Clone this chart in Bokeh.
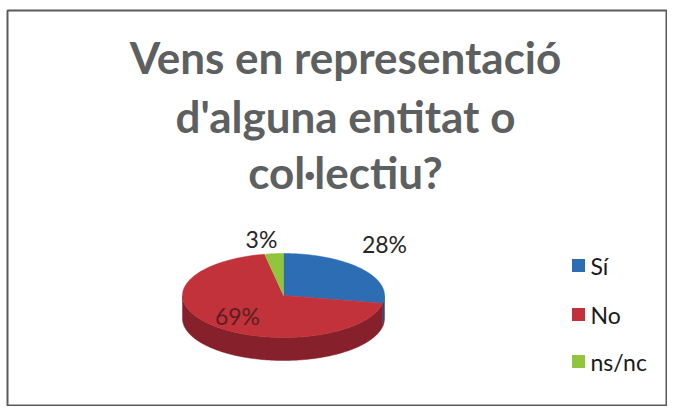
import numpy as np
from bokeh.plotting import figure
from bokeh.models import Range1d
from bokeh.core.properties import value
from bokeh.embed import file_html
from bokeh.resources import INLINE

# ---- data ----
title_lines = ["Vens en representació", "d'alguna entitat o", "col·lectiu?"]
categories = ["Sí", "No", "ns/nc"]
shares = [28, 69, 3]
pct_labels = ["28%", "69%", "3%"]

# ---- style ----
top_colors = ["#2d6db3", "#c2323a", "#92c43e"]
side_colors = ["#1f4f88", "#86202a", "#5f8a22"]
label_colors = ["#262626", "#5a1e22", "#262626"]
label_offsets = [(101, 52), (-46, -20), (-22, 57)]  # (dx, dy) from pie centre, px

W, H = 667, 406
p = figure(width=W, height=H, output_backend="svg", toolbar_location=None,
           x_range=Range1d(0, W), y_range=Range1d(0, H), min_border=0,
           background_fill_color="white", border_fill_color="white")
p.axis.visible = False
p.grid.visible = False
p.outline_line_color = None

# chart frame
p.quad(left=[7], right=[666], top=[H - 10], bottom=[H - 405],
       fill_color=None, line_color="#5a5a5a", line_width=2)

# ---- title ----
p.text(x=[345] * 3, y=[H - 56, H - 115, H - 171], text=title_lines,
       text_font=value("Lato"), text_font_style="bold", text_font_size="44px",
       text_color="#5d6060", text_align="center", text_baseline="alphabetic")

# ---- 3D pie ----
cx, cy, rx, ry, depth = 283, H - 295, 101, 42, 23
total = float(sum(shares))
start = 90.0
angles = []
for v in shares:
    end = start - v / total * 360.0
    angles.append((start, end))
    start = end

side_xs, side_ys, side_c = [], [], []
for (a0, a1), c in zip(angles, side_colors):
    th = np.radians(np.linspace(a0, a1, 400))
    mask = np.sin(th) <= 0
    idx = np.where(mask)[0]
    if len(idx) < 2:
        continue
    runs = np.split(idx, np.where(np.diff(idx) != 1)[0] + 1)
    for r in runs:
        if len(r) < 2:
            continue
        t = th[r]
        xs_top = cx + rx * np.cos(t)
        ys_top = cy + ry * np.sin(t)
        side_xs.append(list(np.concatenate([xs_top, xs_top[::-1]])))
        side_ys.append(list(np.concatenate([ys_top, (ys_top - depth)[::-1]])))
        side_c.append(c)

p.patches(xs=side_xs, ys=side_ys, fill_color=side_c, line_color=side_c, line_width=0.5)

top_xs, top_ys = [], []
for (a0, a1) in angles:
    th = np.radians(np.linspace(a0, a1, 200))
    top_xs.append([cx] + list(cx + rx * np.cos(th)))
    top_ys.append([cy] + list(cy + ry * np.sin(th)))
p.patches(xs=top_xs, ys=top_ys, fill_color=top_colors, line_color=top_colors, line_width=0.5)

# ---- percentage labels ----
p.text(x=[cx + d[0] for d in label_offsets], y=[cy + d[1] for d in label_offsets],
       text=pct_labels, text_font=value("Lato"), text_font_size="23px",
       text_color=label_colors, text_align="center", text_baseline="middle")

# ---- legend ----
leg_y = [H - 265, H - 314, H - 361]
p.scatter(x=[578] * 3, y=leg_y, marker="square", size=13, fill_color=top_colors, line_color=None)
p.text(x=[590] * 3, y=leg_y, text=categories, text_font=value("Lato"), text_font_size="23px",
       text_color="#1a1a1a", text_align="left", text_baseline="middle")

open("out.html", "w").write(file_html(p, INLINE))
